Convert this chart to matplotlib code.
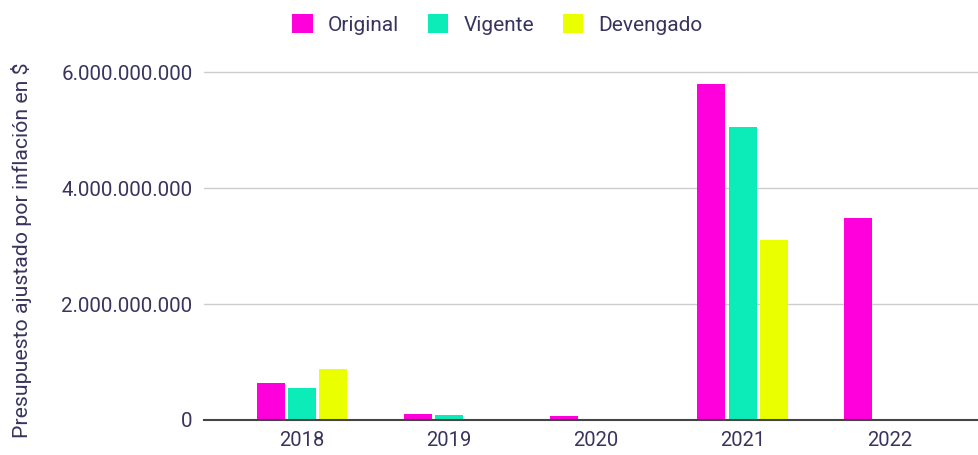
import matplotlib
matplotlib.use('Agg')
import matplotlib.pyplot as plt
import numpy as np

years = ['2018', '2019', '2020', '2021', '2022']
original = [0.64e9, 0.10e9, 0.07e9, 5.80e9, 3.49e9]
vigente = [0.55e9, 0.09e9, 0, 5.05e9, 0]
devengado = [0.88e9, 0, 0, 3.10e9, 0]

series = [('Original', original, '#ff00dc'),
          ('Vigente', vigente, '#0becb8'),
          ('Devengado', devengado, '#eaff00')]

plt.rcParams['font.family'] = ['Roboto', 'DejaVu Sans']
text_color = '#38345e'

fig = plt.figure(figsize=(9.79, 4.55), dpi=100)
ax = fig.add_axes([0.208, 0.077, 0.792, 0.79])

x = np.arange(len(years))
w = 0.19
pitch = 0.213
for i, (name, vals, color) in enumerate(series):
    xs = x + (i - 1) * pitch
    ax.bar(xs, vals, width=w, color=color, label=name, zorder=3)

ax.set_xlim(-0.67, 4.61)
ax.set_ylim(0, 6.2e9)
ax.set_yticks([0, 2e9, 4e9, 6e9])
ax.set_yticklabels(['0', '2.000.000.000', '4.000.000.000', '6.000.000.000'])
ax.set_xticks(x)
ax.set_xticklabels(years)

ax.grid(axis='y', color='#cccccc', linewidth=1, zorder=0)
for s in ['left', 'right', 'top']:
    ax.spines[s].set_visible(False)
ax.spines['bottom'].set_color('#444444')
ax.spines['bottom'].set_linewidth(1.5)
ax.spines['bottom'].set_zorder(4)

ax.tick_params(axis='y', length=0, labelsize=14.8, labelcolor=text_color, pad=8)
ax.tick_params(axis='x', length=0, labelsize=14.5, labelcolor=text_color, pad=8)

ax.set_ylabel('Presupuesto ajustado por inflación en $', fontsize=15.3,
              color=text_color)
ax.yaxis.set_label_coords(-0.221, 0.473)

leg = fig.legend(loc='upper center', bbox_to_anchor=(0.508, 1.01), ncol=3,
                 frameon=False, fontsize=15, handlelength=1.0, handleheight=1.0,
                 columnspacing=1.37, handletextpad=0.72)
for t in leg.get_texts():
    t.set_color(text_color)

fig.savefig('out.png', dpi=100)
